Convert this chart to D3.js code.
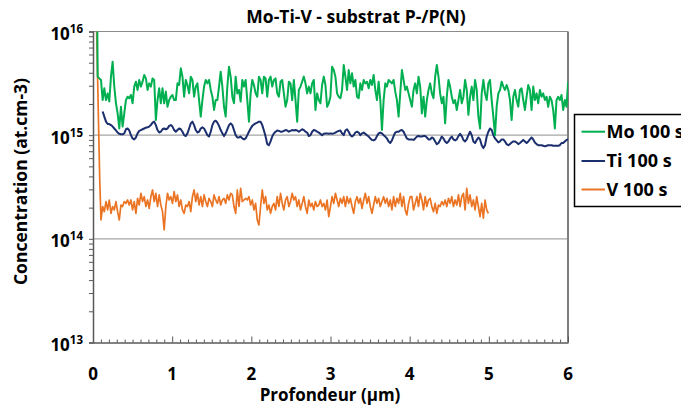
<!DOCTYPE html>
<html>
<head>
<meta charset="utf-8">
<script src="https://cdn.jsdelivr.net/npm/d3@7"></script>
<style>
  html, body { margin: 0; padding: 0; background: #ffffff; }
  svg { display: block; }
  text { font-family: "Open Sans", "Liberation Sans", sans-serif; font-weight: 700; fill: #000; }
</style>
</head>
<body>
<svg id="chart" width="681" height="407"></svg>
<script>
// ---------------- DATA ----------------
const title = "Mo-Ti-V - substrat P-/P(N)";
const xTitle = "Profondeur (µm)";
const yTitle = "Concentration (at.cm-3)";
const xTickLabels = ["0", "1", "2", "3", "4", "5", "6"];
const yTickExponents = [13, 14, 15, 16];
const seriesNames = ["Mo 100 s", "Ti 100 s", "V 100 s"];
const seriesColors = ["#00B050", "#1B2F6E", "#EA7424"];

// depth sampling (µm)
const depthStep = 0.021;
const moStart = 0.059;
const tiStart = 0.122;
const vStart = 0.101;

// Mo leading edge (depth µm, concentration at.cm-3)
const moLeadX = [0.052];
const moLeadY = [2e16];
// Mo 100 s values, in units of 1e15 at.cm-3
const moValues = [
3.67,3.53,3.41,2.18,2.83,2.18,2.53,2.11,3.67,5.12,2.94,2.03,1.62,1.16,1.88,1.21,1.62,2.18,2.35,2.27,
2.44,2.03,2.94,3.28,2.73,3.41,2.94,3.28,3.81,3.53,2.73,3.16,2.94,3.53,3.41,1.40,2.18,2.83,2.03,2.83,
2.03,2.63,1.88,2.18,2.35,2.44,2.18,2.18,3.16,3.05,4.41,3.67,2.35,3.41,3.05,2.53,3.67,3.41,2.35,2.94,
3.16,2.18,1.51,2.18,2.94,3.41,3.16,3.41,2.73,2.35,1.75,2.18,2.18,2.94,4.10,2.94,1.88,1.51,2.94,4.58,
3.67,2.35,2.03,3.67,2.53,2.73,2.11,3.41,2.94,3.41,2.18,1.35,2.53,3.41,3.05,2.53,2.35,3.67,3.41,2.53,
3.67,3.53,2.35,3.41,3.67,2.94,3.41,3.53,2.53,2.35,3.28,3.41,2.53,1.88,2.18,3.28,3.16,2.18,3.41,2.18,
1.35,2.73,2.94,3.28,3.67,3.16,2.53,2.94,2.53,3.16,3.41,1.75,2.53,2.18,2.03,3.05,3.67,3.05,1.88,2.03,
2.35,4.58,4.25,3.67,2.53,2.35,2.27,
2.73,4.75,3.67,2.73,4.25,3.16,3.95,2.94,3.41,2.35,2.27,3.16,2.73,3.41,3.16,3.28,2.83,3.41,3.05,3.81,
2.73,2.18,3.28,2.18,1.12,2.18,3.16,2.94,3.41,3.28,3.16,3.41,2.63,2.18,1.51,2.53,4.25,3.41,2.73,2.94,
2.53,2.18,1.88,2.73,3.16,2.53,3.67,2.94,1.62,2.35,1.51,2.18,2.73,3.16,2.53,2.27,3.67,4.75,3.67,2.53,
2.03,2.35,1.30,2.35,3.41,2.94,2.35,2.03,2.18,1.75,2.18,2.73,2.03,2.35,3.41,2.73,1.57,2.35,2.94,2.18,
3.41,2.73,1.51,1.16,2.53,3.41,2.53,2.18,3.16,3.41,2.18,1.51,1.00,1.88,2.53,2.73,3.28,2.94,2.73,3.05,
2.73,2.18,1.40,2.35,2.73,2.18,1.88,2.73,2.83,2.18,1.75,2.35,3.05,2.73,1.75,2.94,2.18,2.53,2.03,2.73,
2.35,2.53,2.18,2.35,1.88,2.35,2.18,1.75,1.16,2.18,2.35,2.18,2.44,1.75,2.18,1.88,3.28
];
// Ti 100 s values, in units of 1e15 at.cm-3
const tiValues = [
1.69,1.51,1.35,1.28,1.28,1.25,1.21,1.16,1.11,1.06,1.03,1.02,1.02,1.04,1.14,1.16,1.11,1.00,0.93,0.91,
0.95,1.04,1.10,1.12,1.14,1.16,1.18,1.19,1.21,1.25,1.32,1.35,1.25,1.12,1.06,1.08,1.14,1.16,1.14,1.16,
1.23,1.25,1.21,1.12,1.08,1.12,1.16,1.14,1.08,1.00,0.98,1.04,1.16,1.30,1.35,1.25,1.12,1.06,1.08,1.16,
1.19,1.16,1.08,1.00,0.97,1.08,1.25,1.35,1.38,1.32,1.23,1.12,1.04,0.98,1.04,1.14,1.25,1.30,1.25,1.12,
1.00,0.95,0.95,0.97,0.93,0.91,0.93,1.00,1.08,1.16,1.23,1.27,1.30,1.32,1.35,1.35,1.25,1.11,0.97,0.82,
0.80,0.87,0.97,1.04,1.08,1.11,1.10,1.08,1.08,1.10,1.12,1.11,1.08,1.10,1.12,1.11,1.12,1.11,1.08,1.11,
1.14,1.12,1.08,1.06,0.98,1.00,1.08,1.12,1.11,1.08,1.06,1.03,1.00,1.03,1.04,1.04,1.03,1.04,1.03,1.04,
1.06,1.08,1.10,1.11,
1.04,1.00,1.11,1.14,1.08,1.00,0.97,1.00,1.06,1.08,1.06,1.00,1.04,1.06,1.03,1.00,0.97,0.93,0.90,0.89,
0.91,0.98,1.04,1.06,1.04,1.00,0.97,0.93,0.87,0.84,0.89,0.98,1.06,1.08,1.08,1.11,1.12,1.08,1.00,0.93,
0.91,0.91,0.91,0.90,0.93,0.97,0.98,0.97,0.97,0.98,0.98,0.95,0.91,0.91,0.95,0.93,0.87,0.82,0.84,0.90,
0.97,0.93,0.87,0.84,0.87,0.93,0.97,0.91,0.89,0.91,0.98,1.03,0.98,0.90,0.87,0.91,1.00,1.08,1.00,0.87,
0.84,0.90,0.95,0.91,0.80,0.75,0.80,0.97,1.08,1.16,1.12,1.00,0.93,0.89,0.85,0.87,0.91,0.91,0.87,0.82,
0.80,0.82,0.85,0.87,0.87,0.85,0.82,0.84,0.87,0.90,0.87,0.84,0.87,0.91,0.95,0.91,0.85,0.82,0.80,0.80,
0.80,0.79,0.78,0.79,0.80,0.80,0.80,0.79,0.79,0.79,0.79,0.80,0.84,0.84,0.87,0.90,0.91
];
// V leading edge (depth µm, concentration at.cm-3)
const vLeadX = [0.044, 0.069, 0.085];
const vLeadY = [1.2e16, 1.4e15, 3.7e14];
// V 100 s values, in units of 1e14 at.cm-3
const vValues = [
1.52,2.05,1.83,2.29,1.90,2.37,1.76,2.05,1.90,2.29,1.83,1.52,2.12,2.05,2.29,2.20,2.37,2.12,2.37,1.90,
2.29,1.76,2.46,2.12,2.75,2.29,2.55,2.05,2.37,1.97,2.55,2.96,2.29,2.75,2.05,2.65,2.12,1.83,1.22,2.05,
2.75,2.37,2.55,2.20,2.85,2.29,2.65,2.05,2.37,1.90,1.76,2.12,2.05,2.29,1.83,2.55,2.96,2.29,2.75,2.12,
2.55,2.05,2.65,2.29,2.05,2.46,2.29,2.05,2.65,2.37,2.20,2.55,2.12,2.37,2.46,2.20,2.65,2.37,2.75,2.65,
2.05,1.76,2.96,2.05,3.07,2.29,2.37,2.46,
2.37,2.55,2.12,2.37,1.90,2.20,1.52,1.36,2.05,2.96,2.20,2.55,1.90,2.12,1.76,2.05,2.20,1.90,2.55,2.05,
2.75,2.20,1.90,2.37,2.55,2.05,2.29,2.75,2.37,2.55,2.05,2.37,1.90,2.20,2.55,2.05,1.76,2.37,2.05,2.20,
1.90,2.29,2.05,2.12,2.37,2.05,2.20,1.90,2.37,1.64,2.05,2.55,2.20,2.75,2.37,2.05,2.46,2.20,2.55,2.05,
2.55,2.20,2.46,2.05,1.76,2.29,2.55,2.20,2.46,1.97,2.37,2.75,2.20,2.55,2.05,1.76,2.12,2.55,2.20,2.46,
2.05,2.29,2.55,2.20,2.46,2.05,2.37,1.90,2.55,2.05,2.46,2.20,2.75,2.05,2.55,1.90,1.70,2.20,2.55,
2.55,1.90,2.20,2.55,2.05,2.75,2.37,1.90,2.55,2.05,2.37,2.46,2.05,1.83,2.20,1.76,2.12,2.05,2.29,2.12,
2.37,2.05,2.46,2.20,2.55,2.05,2.37,2.12,2.65,2.05,2.55,2.75,1.90,3.07,2.20,2.65,2.05,2.37,1.90,2.55,
2.05,1.64,2.20,1.58,2.37,1.90,1.76
];

// ---------------- BUILD SERIES ----------------
function build(leadX, leadY, start, vals, unit) {
  const pts = leadX.map((x, i) => [x, leadY[i]]);
  vals.forEach((v, i) => pts.push([start + i * depthStep, v * unit]));
  return pts;
}
const series = [
  build(moLeadX, moLeadY, moStart, moValues, 1e15),
  build([], [], tiStart, tiValues, 1e15),
  build(vLeadX, vLeadY, vStart, vValues, 1e14)
];

// ---------------- LAYOUT ----------------
const svg = d3.select("#chart");
const L = 93, R = 568, T = 31.5, B = 342.5;
const x = d3.scaleLinear().domain([0, 6]).range([L, R]);
const y = d3.scaleLog().domain([1e13, 1e16]).range([B, T]);

// gridlines
svg.append("g").selectAll("line").data([1e14, 1e15]).join("line")
  .attr("x1", L).attr("x2", R).attr("y1", d => y(d)).attr("y2", d => y(d))
  .attr("stroke", "#a6a6a6").attr("stroke-width", 1.2);
// top border
svg.append("line").attr("x1", L).attr("x2", R).attr("y1", y(1e16)).attr("y2", y(1e16))
  .attr("stroke", "#8c8c8c").attr("stroke-width", 1.2);
// right border
svg.append("line").attr("x1", R).attr("x2", R).attr("y1", T).attr("y2", B)
  .attr("stroke", "#7f7f7f").attr("stroke-width", 2);

// clip
svg.append("clipPath").attr("id", "clip").append("rect")
  .attr("x", L).attr("y", T).attr("width", R - L).attr("height", B - T);

const line = d3.line().x(d => x(d[0])).y(d => y(d[1]));
const widths = [2, 2, 1.7];
const g = svg.append("g").attr("clip-path", "url(#clip)");
[2, 1, 0].forEach(i => {
  g.append("path").datum(series[i]).attr("d", line)
    .attr("fill", "none").attr("stroke", seriesColors[i])
    .attr("stroke-width", widths[i]).attr("stroke-linejoin", "round");
});

// Y axis with log minor ticks (outward)
const yTicks = [];
for (let e = 13; e < 16; e++) for (let m = 1; m < 10; m++) yTicks.push(m * Math.pow(10, e));
yTicks.push(1e16);
const yAxis = svg.append("g").attr("transform", `translate(${L},0)`)
  .call(d3.axisLeft(y).tickValues(yTicks).tickSize(4).tickFormat(""));
yAxis.select(".domain").attr("stroke", "#595959").attr("stroke-width", 1.5);
yAxis.selectAll(".tick line").attr("stroke", "#595959").attr("stroke-width", 1);

// X axis: minor ticks every 0.1 inward, major at integers
const xMinor = d3.range(0, 61).map(i => i / 10).filter(v => Math.abs(v - Math.round(v)) > 1e-9);
const xAxisMinor = svg.append("g").attr("transform", `translate(0,${B})`)
  .call(d3.axisBottom(x).tickValues(xMinor).tickSizeInner(-3).tickSizeOuter(0).tickFormat(""));
xAxisMinor.select(".domain").attr("stroke", "#595959").attr("stroke-width", 1.5);
xAxisMinor.selectAll(".tick line").attr("stroke", "#595959");
const xAxisMajor = svg.append("g").attr("transform", `translate(0,${B})`)
  .call(d3.axisBottom(x).tickValues(d3.range(0, 7)).tickSizeInner(-6).tickSizeOuter(0).tickFormat(""));
xAxisMajor.select(".domain").remove();
xAxisMajor.selectAll(".tick line").attr("stroke", "#595959");

// X tick labels
svg.append("g").selectAll("text").data(xTickLabels).join("text")
  .attr("x", (d, i) => x(i)).attr("y", 380)
  .attr("text-anchor", "middle").attr("font-size", 17).text(d => d);

// Y tick labels with superscripts
const yl = svg.append("g").selectAll("text").data(yTickExponents).join("text")
  .attr("x", 83).attr("y", d => y(Math.pow(10, d)) + 8.5)
  .attr("text-anchor", "end").attr("font-size", 17);
yl.append("tspan").text("10");
yl.append("tspan").attr("font-size", 11.5).attr("dy", -7).text(d => d);

// Titles
svg.append("text").attr("x", 356).attr("y", 23).attr("text-anchor", "middle")
  .attr("font-size", 17.5).text(title);
svg.append("text").attr("x", 330).attr("y", 401).attr("text-anchor", "middle")
  .attr("font-size", 17).text(xTitle);
svg.append("text").attr("transform", "translate(27,181.5) rotate(-90)")
  .attr("text-anchor", "middle").attr("font-size", 17.5).text(yTitle);

// Legend
svg.append("rect").attr("x", 574.5).attr("y", 114.5).attr("width", 120).attr("height", 92)
  .attr("fill", "#fff").attr("stroke", "#000").attr("stroke-width", 1.5);
const legY = [131.7, 161, 189.5];
seriesNames.forEach((n, i) => {
  svg.append("line").attr("x1", 581.5).attr("x2", 605).attr("y1", legY[i]).attr("y2", legY[i])
    .attr("stroke", seriesColors[i]).attr("stroke-width", 2);
  svg.append("text").attr("x", 606.5).attr("y", legY[i] + 6.3).attr("font-size", 18).text(n);
});
</script>
</body>
</html>
